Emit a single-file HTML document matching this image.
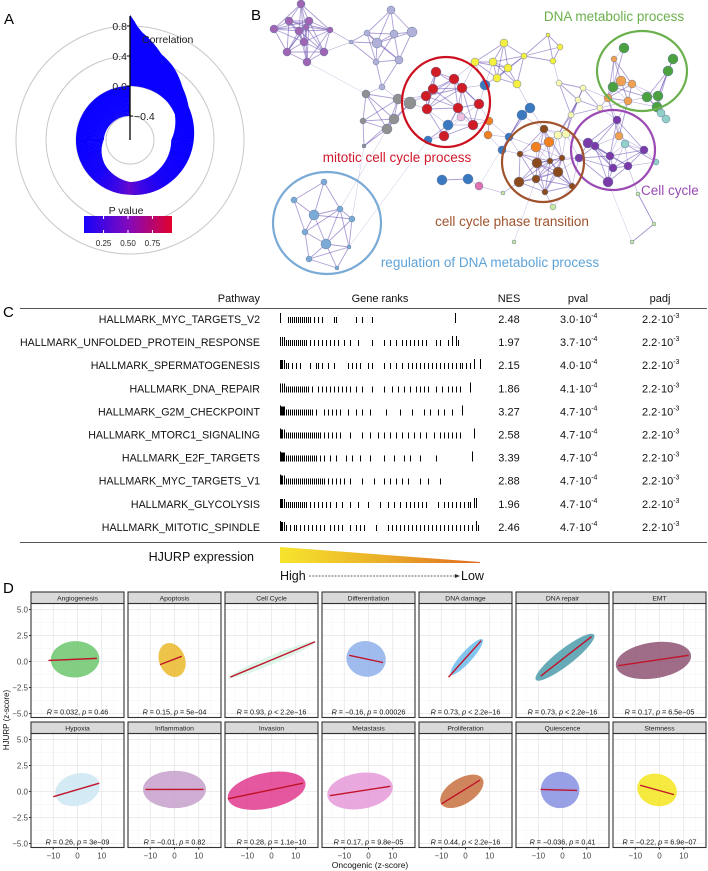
<!DOCTYPE html>
<html><head><meta charset="utf-8"><style>
body{margin:0;background:#fff}
svg{display:block;font-family:"Liberation Sans",sans-serif}
</style></head><body>
<svg id="fig" width="708" height="871" viewBox="0 0 708 871">
<g id="pa"></g>
<g id="pb"></g>
<g id="pc"></g>
<g id="pd"></g>
</svg>
<script>
// ---------- Panel A data ----------
const spiralAngles=[0,5,20,30,45,60,90,135,180,225,270,315,360];
const spiralOuter=[0.95,0.75,0.5,0.42,0.27,0.18,0.13,0.06,0.01,0.0,0.0,0.0,0.0];
const spiralInner=[0.0,0.0,0.0,0.0,-0.01,-0.03,-0.17,-0.17,-0.16,-0.25,-0.37,-0.39,-0.4];
const spiralPAngles=[0,100,140,165,180,195,220,260,360];
const spiralP=[0.0,0.0,0.05,0.2,0.38,0.2,0.05,0.0,0.0];
const corrTicks=[0.8,0.4,0.0,-0.4];
const pTicks=[0.25,0.5,0.75];
// ---------- Panel B data ----------
const netNodes=[
[301,4,4,'#a064b4'],[274,29,4,'#a064b4'],[289,21,4,'#a064b4'],[309,21,4,'#a064b4'],[306,27,3,'#a064b4'],[299,31,4,'#a064b4'],[287,52,4,'#a064b4'],[324,52,4,'#a064b4'],[307,62,4,'#a064b4'],[330,30,3,'#a064b4'],[304,42,4,'#a064b4'],
[391,10,4,'#b0b0d8'],[412,32,5,'#b0b0d8'],[394,34,4,'#b0b0d8'],[377,43,5,'#b0b0d8'],[399,60,4,'#b0b0d8'],[367,33,3,'#b0b0d8'],[376,62,3,'#b0b0d8'],[382,87,3,'#b0b0d8'],[351,42,2,'#b0b0d8'],
[366,94,4,'#909090'],[398,99,5,'#909090'],[410,103,6,'#909090'],[394,119,5,'#909090'],[387,129,5,'#909090'],[363,121,3,'#909090'],[364,146,2,'#909090'],
[436,72,5,'#d01c24'],[454,79,5,'#d01c24'],[462,88,5,'#d01c24'],[433,89,5,'#d01c24'],[426,96,5,'#d01c24'],[427,109,5,'#d01c24'],[458,108,5,'#d01c24'],[479,104,5,'#d01c24'],[473,125,5,'#d01c24'],[444,136,5,'#d01c24'],
[461,117,4,'#f0c0e0'],[479,186,4,'#e070b0'],
[485,85,5,'#3a78c0'],[448,125,5,'#3a78c0'],[428,140,4,'#3a78c0'],[522,115,5,'#3a78c0'],[530,108,5,'#3a78c0'],[509,137,4,'#3a78c0'],[502,150,4,'#3a78c0'],[442,180,5,'#3a78c0'],[468,179,5,'#3a78c0'],
[504,43,4,'#f5f040'],[475,62,4,'#f5f040'],[493,62,4,'#f5f040'],[508,68,4,'#f5f040'],[497,78,4,'#f5f040'],[517,84,4,'#f5f040'],[524,56,3,'#f5f040'],[560,47,3,'#f5f040'],[553,61,3,'#f5f040'],[548,35,2,'#f5f040'],[559,83,3,'#f8f8b0'],[571,115,3,'#f8f8b0'],[558,135,4,'#f8f8b0'],[566,134,4,'#f8f8b0'],[578,100,3,'#f8f8b0'],[600,108,3,'#f8f8b0'],[583,88,3,'#f8f8b0'],
[488,135,4,'#f08020'],[489,121,4,'#f08020'],[536,147,5,'#f08020'],[549,142,5,'#f08020'],[614,59,3,'#f0a050'],[621,81,5,'#f0a050'],[632,84,4,'#f0a050'],[608,98,4,'#f0a050'],[628,101,4,'#f0a050'],[619,136,4,'#f0a050'],
[544,129,4,'#8b4a1c'],[520,154,3,'#8b4a1c'],[537,163,5,'#8b4a1c'],[550,161,3,'#8b4a1c'],[562,158,3,'#8b4a1c'],[558,172,5,'#8b4a1c'],[519,182,5,'#8b4a1c'],[536,179,4,'#8b4a1c'],[572,186,3,'#8b4a1c'],[545,192,3,'#8b4a1c'],
[617,120,4,'#7a3aa8'],[588,143,5,'#7a3aa8'],[595,146,4,'#7a3aa8'],[610,156,4,'#7a3aa8'],[644,150,4,'#7a3aa8'],[628,166,4,'#7a3aa8'],[608,182,5,'#7a3aa8'],[579,158,4,'#7a3aa8'],[613,168,4,'#7a3aa8'],
[624,48,5,'#4ca040'],[673,59,5,'#4ca040'],[668,71,5,'#4ca040'],[613,87,5,'#4ca040'],[647,97,5,'#4ca040'],[658,96,5,'#4ca040'],[657,107,5,'#4ca040'],
[666,119,4,'#90d0c8'],[661,113,4,'#90d0c8'],[625,144,4,'#90d0c8'],[656,162,3,'#90d0c8'],
[324,182,3,'#7aaad6'],[294,200,3,'#7aaad6'],[314,215,5,'#7aaad6'],[340,209,3,'#7aaad6'],[352,219,3,'#7aaad6'],[305,232,3,'#7aaad6'],[326,244,5,'#7aaad6'],[349,247,2,'#7aaad6'],[309,259,3,'#7aaad6'],[337,268,2,'#7aaad6'],
[638,194,2,'#c8e8a0'],[654,224,2,'#c8e8a0'],[632,242,2,'#c8e8a0'],[514,242,2,'#c8e8a0'],[503,193,2,'#c8e8a0'],[553,207,3,'#c8e8a0']];
const netLinks=[[[364,146],[352,219]],[[330,30],[351,42]],[[307,62],[366,94]],[[479,186],[509,137]],[[638,194],[654,224]],[[654,224],[632,242]],[[514,242],[536,179]],[[503,193],[519,182]],[[553,207],[545,192]],[[632,242],[608,182]],[[349,247],[428,140]],[[340,209],[387,129]]];
const netCircles=[[446,102,44,45,'#cc1020'],[642,71,45,40,'#6ab04c'],[613,150,42,40,'#9b4ab3'],[543,162,41,40,'#a0522d'],[327,223,54,51,'#7aaad6']];
const netLabels=[['DNA metabolic process',614,21,'#6ab04c','middle'],['mitotic cell cycle process',397,162,'#d0192b','middle'],['Cell cycle',641,195,'#9b4ab3','start'],['cell cycle phase transition',512,226,'#a0522d','middle'],['regulation of DNA metabolic process',490,267,'#5ea3d8','middle']];
// ---------- Panel C data ----------
const pathways=['HALLMARK_MYC_TARGETS_V2','HALLMARK_UNFOLDED_PROTEIN_RESPONSE','HALLMARK_SPERMATOGENESIS','HALLMARK_DNA_REPAIR','HALLMARK_G2M_CHECKPOINT','HALLMARK_MTORC1_SIGNALING','HALLMARK_E2F_TARGETS','HALLMARK_MYC_TARGETS_V1','HALLMARK_GLYCOLYSIS','HALLMARK_MITOTIC_SPINDLE'];
const nesVals=['2.48','1.97','2.15','1.86','3.27','2.58','3.39','2.88','1.96','2.46'];
const pvalMant=['3.0','3.7','4.0','4.1','4.7','4.7','4.7','4.7','4.7','4.7'];
const pvalExp=['-4','-4','-4','-4','-4','-4','-4','-4','-4','-4'];
const padjMant=['2.2','2.2','2.2','2.2','2.2','2.2','2.2','2.2','2.2','2.2'];
const padjExp=['-3','-3','-3','-3','-3','-3','-3','-3','-3','-3'];
const ranks=[
[0,0.04,0.05,0.06,0.07,0.08,0.09,0.10,0.11,0.12,0.13,0.14,0.15,0.17,0.19,0.21,0.27,0.28,0.38,0.41,0.46,0.875],
[0,0.01,0.02,0.03,0.04,0.05,0.06,0.07,0.08,0.09,0.10,0.11,0.12,0.13,0.15,0.17,0.19,0.21,0.23,0.25,0.27,0.29,0.32,0.35,0.39,0.46,0.52,0.55,0.58,0.61,0.63,0.65,0.67,0.69,0.71,0.73,0.78,0.80,0.84,0.86,0.88,0.89],
[0,0.005,0.01,0.02,0.03,0.04,0.06,0.08,0.10,0.15,0.18,0.19,0.21,0.24,0.27,0.34,0.36,0.38,0.40,0.44,0.46,0.52,0.55,0.58,0.61,0.64,0.66,0.68,0.70,0.72,0.74,0.76,0.78,0.80,0.82,0.84,0.86,0.88,0.90,0.91,0.93,0.95,0.97,1.0],
[0,0.01,0.02,0.03,0.04,0.05,0.06,0.07,0.08,0.09,0.10,0.11,0.12,0.13,0.14,0.16,0.19,0.21,0.23,0.25,0.27,0.29,0.31,0.33,0.35,0.38,0.41,0.46,0.52,0.56,0.59,0.62,0.65,0.68,0.70,0.72,0.74,0.78,0.81,0.84,0.86,0.88,0.90,0.95],
[0,0.005,0.01,0.015,0.02,0.03,0.04,0.05,0.06,0.07,0.08,0.09,0.10,0.11,0.12,0.13,0.14,0.15,0.16,0.18,0.22,0.24,0.26,0.28,0.30,0.34,0.38,0.41,0.45,0.53,0.60,0.66,0.72,0.75,0.79,0.82,0.86,0.91],
[0,0.005,0.01,0.02,0.03,0.04,0.05,0.06,0.07,0.08,0.09,0.10,0.11,0.12,0.13,0.14,0.15,0.16,0.17,0.18,0.19,0.20,0.22,0.24,0.26,0.28,0.30,0.35,0.41,0.45,0.49,0.52,0.55,0.58,0.61,0.64,0.67,0.70,0.73,0.77,0.80,0.82,0.84,0.86,0.88,0.90,0.97],
[0,0.005,0.01,0.015,0.02,0.03,0.04,0.05,0.06,0.07,0.08,0.09,0.10,0.11,0.12,0.13,0.14,0.15,0.16,0.17,0.18,0.20,0.22,0.25,0.28,0.33,0.36,0.40,0.45,0.52,0.57,0.62,0.65,0.70,0.78,0.96],
[0,0.005,0.01,0.02,0.03,0.04,0.05,0.06,0.07,0.08,0.09,0.10,0.11,0.12,0.13,0.14,0.15,0.16,0.17,0.18,0.19,0.20,0.21,0.22,0.24,0.26,0.28,0.30,0.32,0.35,0.41,0.47,0.52,0.55,0.58,0.61,0.64,0.70,0.74,0.80],
[0,0.005,0.01,0.02,0.03,0.04,0.05,0.06,0.07,0.08,0.09,0.10,0.11,0.12,0.13,0.15,0.17,0.19,0.21,0.23,0.25,0.28,0.31,0.35,0.39,0.44,0.50,0.54,0.57,0.60,0.63,0.65,0.67,0.69,0.71,0.73,0.79,0.82,0.84,0.86,0.88,0.90,0.92,0.94,0.95,0.97,0.98],
[0,0.005,0.01,0.02,0.03,0.05,0.07,0.08,0.10,0.12,0.14,0.16,0.18,0.20,0.22,0.25,0.27,0.29,0.31,0.35,0.38,0.40,0.42,0.48,0.54,0.56,0.58,0.60,0.62,0.64,0.66,0.68,0.70,0.72,0.74,0.76,0.78,0.80,0.82,0.84,0.86,0.88,0.90,0.92,0.94,0.96,0.98,0.99]];
const tallRanks=[[0,0.875],[0.86,0.88],[0.97,1.0],[0.95],[0,0.91],[0,0.97],[0,0.96],[0],[0.97,0.98],[0,0.98]];
// ---------- Panel D data ----------
const hallNames=['Angiogenesis','Apoptosis','Cell Cycle','Differentiation','DNA damage','DNA repair','EMT','Hypoxia','Inflammation','Invasion','Metastasis','Proliferation','Quiescence','Stemness'];
const fitX0=[-12,-6,-17,-8,-7,-9,-17,-10,-12,-18,-16,-10,-9,-8];
const fitX1=[8,3,18,6,6.5,12,12,9,12,13,9,6,6,6];
const fitY0=[0.1,-0.3,-1.5,0.6,-1.5,-1.4,-0.4,-0.5,0.2,-0.7,-0.4,-1.2,0.2,0.6];
const fitY1=[0.3,0.5,1.9,-0.1,2.0,2.4,0.6,0.8,0.2,0.8,0.5,1.1,0.1,-0.3];
const cloudX0=[-11,-6,-18,-9,-6,-11,-18,-9,-13,-18,-17,-10,-9,-9];
const cloudX1=[9,4,18,7,7,13,13,9,13,14,10,7,7,7];
const cloudSpread=[1.75,1.8,0.45,1.75,0.8,1.0,1.75,1.6,1.8,1.75,1.75,1.45,1.75,1.6];
const cloudColors=['#6cc56c','#eab92a','#d6f3e4','#8fb0ec','#6cbcec','#4d9cab','#8e5472','#cde6f2','#c7a0cb','#e0398e','#e69ad8','#c8713f','#8690e0','#f5e61e'];
const rVals=['0.032','0.15','0.93','\u22120.16','0.73','0.73','0.17','0.26','\u22120.01','0.28','0.17','0.44','\u22120.036','\u22120.22'];
const pVals=['= 0.46','= 5e\u221204','< 2.2e\u221216','= 0.00026','< 2.2e\u221216','< 2.2e\u221216','= 6.5e\u221205','= 3e\u221209','= 0.82','= 1.1e\u221210','= 9.8e\u221205','< 2.2e\u221216','= 0.41','= 6.9e\u221207'];
const yTicks=[5,2.5,0,-2.5,-5];
const yTickLabels=['5.0','2.5','0.0','\u22122.5','\u22125.0'];
const xTicks=[-10,0,10];
const xTickLabels=['\u221210','0','10'];

const NS='http://www.w3.org/2000/svg';
function mk(parent,tag,attrs,text){const e=document.createElementNS(NS,tag);for(const k in attrs)e.setAttribute(k,attrs[k]);if(text!==undefined)e.textContent=text;parent.appendChild(e);return e;}
function interp(xs,ys,x){for(let i=1;i<xs.length;i++){if(x<=xs[i]){const t=(x-xs[i-1])/(xs[i]-xs[i-1]);return ys[i-1]+t*(ys[i]-ys[i-1]);}}return ys[ys.length-1];}
function pColor(p){const c0=[10,0,255],c1=[130,10,190],c2=[235,0,30];let a,b,t;if(p<0.5){a=c0;b=c1;t=p/0.5;}else{a=c1;b=c2;t=(p-0.5)/0.5;}return 'rgb('+a.map((v,i)=>Math.round(v+(b[i]-v)*t)).join(',')+')';}

// ===== Panel A =====
(function(){
const g=document.getElementById('pa');
const cx=130,cy=140;const rr=v=>54+75*v;
let t=mk(g,'text',{x:4,y:24,'font-size':15},'A');

[24,54,84,114].forEach(r=>{const c=mk(g,'circle',{cx:cx,cy:cy,r:r,fill:'none',stroke:'#c8c8c8','stroke-width':1});});
for(let a=0;a<360;a+=2){
 const a2=Math.min(a+2.3,360);
 const o1=rr(interp(spiralAngles,spiralOuter,a)),o2=rr(interp(spiralAngles,spiralOuter,a2));
 const i1=rr(interp(spiralAngles,spiralInner,a)),i2=rr(interp(spiralAngles,spiralInner,a2));
 const r1=a*Math.PI/180,r2=a2*Math.PI/180;
 const P=(r,th)=>(cx+r*Math.sin(th)).toFixed(2)+','+(cy-r*Math.cos(th)).toFixed(2);
 const seg=mk(g,'polygon',{points:[P(i1,r1),P(o1,r1),P(o2,r2),P(i2,r2)].join(' '),fill:pColor(interp(spiralPAngles,spiralP,a))});
 
}
const ax=mk(g,'line',{x1:cx,y1:16,x2:cx,y2:cy,stroke:'#000','stroke-width':1.3});

corrTicks.forEach(v=>{const y=cy-rr(v);const right=v<0;
 mk(g,'line',{x1:right?cx:cx-3,x2:right?cx+3:cx,y1:y,y2:y,stroke:'#000'});
 const tl=mk(g,'text',{x:right?cx+4:cx-3,y:y+4,'font-size':10.5,'text-anchor':right?'start':'end',fill:'#222'},(v<0?'\u2212':'')+Math.abs(v).toFixed(1));
 });
t=mk(g,'text',{x:142,y:43,'font-size':10.5,fill:'#222'},'Correlation');

t=mk(g,'text',{x:126,y:214,'font-size':10.5,'text-anchor':'middle',fill:'#222'},'P value');

const defs=mk(g,'defs',{});const lg=mk(defs,'linearGradient',{id:'pgrad',x1:0,x2:1,y1:0,y2:0});
[0,0.25,0.5,0.75,1].forEach(s=>mk(lg,'stop',{offset:s,'stop-color':pColor(0.05+0.9*s)}));
const bar=mk(g,'rect',{x:84,y:216,width:88,height:17,fill:'url(#pgrad)'});

pTicks.forEach(p=>{const x=84+(p-0.05)/0.9*88;mk(g,'line',{x1:x,x2:x,y1:216,y2:219,stroke:'#fff'});mk(g,'line',{x1:x,x2:x,y1:230,y2:233,stroke:'#fff'});
 const tl=mk(g,'text',{x:x,y:246,'font-size':8,'text-anchor':'middle',fill:'#222'},p.toFixed(2));
 });
})();

// ===== Panel B =====
(function(){
const g=document.getElementById('pb');
let t=mk(g,'text',{x:251,y:20,'font-size':15},'B');

const eg=mk(g,'g',{stroke:'#6a4cb0','stroke-opacity':0.55});

for(let i=0;i<netNodes.length;i++)for(let j=i+1;j<netNodes.length;j++){
 const a=netNodes[i],b=netNodes[j];const d=Math.hypot(a[0]-b[0],a[1]-b[1]);
 const same=a[3]===b[3];
 if((same&&d<42)||(!same&&d<30)){mk(eg,'line',{x1:a[0],y1:a[1],x2:b[0],y2:b[1],'stroke-width':same?0.9:0.5});}
}
netLinks.forEach(p=>{mk(eg,'line',{x1:p[0][0],y1:p[0][1],x2:p[1][0],y2:p[1][1],'stroke-width':0.5,'stroke-opacity':0.35});});
netNodes.forEach(n=>{const c=mk(g,'circle',{cx:n[0],cy:n[1],r:n[2],fill:n[3],stroke:'#6b7fa0','stroke-width':0.5});
 });
netCircles.forEach(c=>{const e=mk(g,'ellipse',{cx:c[0],cy:c[1],rx:c[2],ry:c[3],fill:'none',stroke:c[4],'stroke-width':2.2});
 });
netLabels.forEach(l=>{const e=mk(g,'text',{x:l[1],y:l[2],'font-size':13.5,fill:l[3],'text-anchor':l[4]},l[0]);
 });
})();

// ===== Panel C =====
(function(){
const g=document.getElementById('pc');
let t=mk(g,'text',{x:3,y:317,'font-size':15},'C');

const hdr=[['Pathway',260,'end'],['Gene ranks',380,'middle'],['NES',509,'middle'],['pval',578,'middle'],['padj',660,'middle']];
hdr.forEach(h=>{const e=mk(g,'text',{x:h[1],y:302,'font-size':11,'text-anchor':h[2],fill:'#111'},h[0]);
 });
let l=mk(g,'line',{x1:20,x2:707,y1:308.5,y2:308.5,stroke:'#555','stroke-width':1});

l=mk(g,'line',{x1:20,x2:707,y1:542.5,y2:542.5,stroke:'#555','stroke-width':1});

const nameEls=[];
pathways.forEach((p,i)=>{
 const y=319+i*23.1;
 let e=mk(g,'text',{x:260,y:y+4,'font-size':11,'text-anchor':'end',fill:'#111'},p);
 
 nameEls.push(e);
 const bg=mk(g,'g',{stroke:'#000','stroke-width':0.8,'shape-rendering':'crispEdges'});
 
 ranks[i].forEach(r=>{const x=Math.round(280+r*200)+0.5;const tall=tallRanks[i].indexOf(r)>=0;const h=tall?10:(r<0.03?9:6);
  mk(bg,'line',{x1:x,x2:x,y1:y+4-h,y2:y+4});});
 e=mk(g,'text',{x:509,y:y+4,'font-size':11,'text-anchor':'middle',fill:'#111'},nesVals[i]);
 
 e=mk(g,'text',{x:560,y:y+4,'font-size':11,fill:'#111'});
 
 mk(e,'tspan',{},pvalMant[i]+'\u00b710');mk(e,'tspan',{dy:-5,'font-size':7},pvalExp[i]);
 e=mk(g,'text',{x:642,y:y+4,'font-size':11,fill:'#111'});
 
 mk(e,'tspan',{},padjMant[i]+'\u00b710');mk(e,'tspan',{dy:-5,'font-size':7},padjExp[i]);
});
try{let mx=0;nameEls.forEach(e=>{mx=Math.max(mx,e.getComputedTextLength());});const f=mx>240?240/mx:1;
 nameEls.forEach(e=>{const w=e.getComputedTextLength();e.setAttribute('textLength',(w*f).toFixed(1));e.setAttribute('lengthAdjust','spacingAndGlyphs');});}catch(err){}
t=mk(g,'text',{x:254,y:561,'font-size':12.5,'text-anchor':'end',fill:'#111'},'HJURP expression');

const defs=mk(g,'defs',{});const lg=mk(defs,'linearGradient',{id:'hgrad',x1:0,x2:1,y1:0,y2:0});
mk(lg,'stop',{offset:0,'stop-color':'#f7e52c'});mk(lg,'stop',{offset:0.5,'stop-color':'#eab02a'});mk(lg,'stop',{offset:1,'stop-color':'#e06a20'});
const tri=mk(g,'polygon',{points:'280,547 480,562 480,563 280,563',fill:'url(#hgrad)'});

t=mk(g,'text',{x:280,y:580,'font-size':12.5,fill:'#111'},'High');

l=mk(g,'line',{x1:309,x2:456,y1:576,y2:576,stroke:'#333','stroke-width':0.8,'stroke-dasharray':'2,1.2'});

mk(g,'polygon',{points:'460,576 455,574 455,578',fill:'#333'});
t=mk(g,'text',{x:461,y:580,'font-size':12.5,fill:'#111'},'Low');

})();

// ===== Panel D =====
(function(){
const g=document.getElementById('pd');
let t=mk(g,'text',{x:3,y:593,'font-size':15},'D');

t=mk(g,'text',{x:0,y:0,'font-size':8,'text-anchor':'middle',fill:'#111',transform:'translate(9,720) rotate(-90)'},'HJURP (z-score)');

t=mk(g,'text',{x:370,y:868,'font-size':8.5,'text-anchor':'middle',fill:'#111'},'Oncogenic (z-score)');

const W=93,XMIN=-19.2,XMAX=19.2;
hallNames.forEach((nm,i)=>{
 const col=i%7,row=Math.floor(i/7);
 const L=31+col*97,stripTop=row?722:592,top=stripTop+11.5,bot=top+114,zero=top+58;
 const px=x=>L+(x-XMIN)/(XMAX-XMIN)*W, py=y=>zero-y*10.4;
 const pg=mk(g,'g',{});
 mk(pg,'rect',{x:L,y:top,width:W,height:bot-top,fill:'#fff'});
 [-15,-5,5,15].forEach(v=>mk(pg,'line',{x1:px(v),x2:px(v),y1:top,y2:bot,stroke:'#f3f3f3','stroke-width':0.5}));
 [3.75,1.25,-1.25,-3.75].forEach(v=>mk(pg,'line',{x1:L,x2:L+W,y1:py(v),y2:py(v),stroke:'#f3f3f3','stroke-width':0.5}));
 xTicks.forEach(v=>mk(pg,'line',{x1:px(v),x2:px(v),y1:top,y2:bot,stroke:'#e6e6e6','stroke-width':0.8}));
 yTicks.forEach(v=>mk(pg,'line',{x1:L,x2:L+W,y1:py(v),y2:py(v),stroke:'#e6e6e6','stroke-width':0.8}));
 const cxm=(cloudX0[i]+cloudX1[i])/2;const slope=(fitY1[i]-fitY0[i])/(fitX1[i]-fitX0[i]);
 const cym=fitY0[i]+slope*(cxm-fitX0[i]);
 const dxp=px(cloudX1[i])-px(cloudX0[i]);const dyp=-(slope*(cloudX1[i]-cloudX0[i]))*10.4;
 const ang=Math.atan2(dyp,dxp);const rx=Math.hypot(dxp,dyp)/2;const ry=cloudSpread[i]*10.4*Math.cos(ang);
 const cl=mk(pg,'ellipse',{cx:px(cxm),cy:py(cym),rx:rx,ry:ry,fill:cloudColors[i],'fill-opacity':0.85,transform:'rotate('+(ang*180/Math.PI)+' '+px(cxm)+' '+py(cym)+')'});
 
 const ln=mk(pg,'line',{x1:px(fitX0[i]),y1:py(fitY0[i]),x2:px(fitX1[i]),y2:py(fitY1[i]),stroke:'#c0142a','stroke-width':1.4});
 
 const st=mk(pg,'text',{x:L+W/2,y:bot-3,'font-size':7.2,'text-anchor':'middle',fill:'#111'});
 
 mk(st,'tspan',{'font-style':'italic'},'R');mk(st,'tspan',{},' = '+rVals[i]+', ');mk(st,'tspan',{'font-style':'italic'},'p');mk(st,'tspan',{},' '+pVals[i]);
 mk(pg,'rect',{x:L,y:top,width:W,height:bot-top,fill:'none',stroke:'#333','stroke-width':1.1});
 const sr=mk(pg,'rect',{x:L,y:stripTop,width:W,height:11.5,fill:'#d9d9d9',stroke:'#333','stroke-width':1.1});
 
 const sl=mk(pg,'text',{x:L+W/2,y:stripTop+8.5,'font-size':6.8,'text-anchor':'middle',fill:'#222'},nm);
 
 if(col===0){yTicks.forEach((v,k)=>{mk(g,'line',{x1:L-2,x2:L,y1:py(v),y2:py(v),stroke:'#333'});
  const e=mk(g,'text',{x:L-3,y:py(v)+3,'font-size':8,'text-anchor':'end',fill:'#444'},yTickLabels[k]);
  });}
 if(row===1){xTicks.forEach((v,k)=>{mk(g,'line',{x1:px(v),x2:px(v),y1:bot,y2:bot+2,stroke:'#333'});
  const e=mk(g,'text',{x:px(v),y:bot+11,'font-size':8,'text-anchor':'middle',fill:'#444'},xTickLabels[k]);
  });}
});
})();
</script>
</body></html>
